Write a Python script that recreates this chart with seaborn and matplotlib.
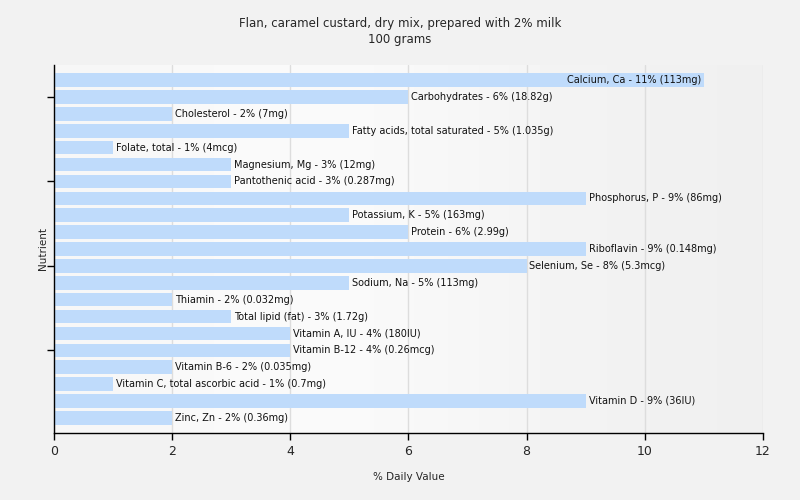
import numpy as np
import pandas as pd
import matplotlib
matplotlib.use("Agg")
import matplotlib.pyplot as plt
import seaborn as sns

nutrients = [
    "Calcium, Ca", "Carbohydrates", "Cholesterol", "Fatty acids, total saturated",
    "Folate, total", "Magnesium, Mg", "Pantothenic acid", "Phosphorus, P",
    "Potassium, K", "Protein", "Riboflavin", "Selenium, Se", "Sodium, Na",
    "Thiamin", "Total lipid (fat)", "Vitamin A, IU", "Vitamin B-12",
    "Vitamin B-6", "Vitamin C, total ascorbic acid", "Vitamin D", "Zinc, Zn",
]
daily_pct = [11, 6, 2, 5, 1, 3, 3, 9, 5, 6, 9, 8, 5, 2, 3, 4, 4, 2, 1, 9, 2]
amounts = [
    "113mg", "18.82g", "7mg", "1.035g", "4mcg", "12mg", "0.287mg", "86mg",
    "163mg", "2.99g", "0.148mg", "5.3mcg", "113mg", "0.032mg", "1.72g",
    "180IU", "0.26mcg", "0.035mg", "0.7mg", "36IU", "0.36mg",
]

df = pd.DataFrame({"Nutrient": nutrients, "pct": daily_pct, "amount": amounts})

sns.set_style("white")
plt.rcParams["font.family"] = ["DejaVu Sans"]

fig = plt.figure(figsize=(8, 5), dpi=100, facecolor="#f2f2f2")
ax = fig.add_axes([0.0675, 0.134, 0.886, 0.736])

# light horizontal gradient behind the bars
grad = np.array([[0.965, 0.985, 0.975, 0.955, 0.94]])
ax.imshow(grad, cmap="gray", vmin=0, vmax=1, aspect="auto",
          extent=(0, 12, 20.9, -0.9), zorder=0, interpolation="bicubic")

sns.barplot(data=df, x="pct", y="Nutrient", orient="h", color="#bfdbfb",
            saturation=1, width=0.8, linewidth=0, edgecolor="none",
            ax=ax, zorder=2)

for i, row in df.iterrows():
    label = f"{row['Nutrient']} - {row['pct']}% ({row['amount']})"
    if row["pct"] > 10:
        ax.text(row["pct"] - 0.05, i, label, va="center", ha="right",
                fontsize=7, color="#111111", zorder=3)
    else:
        ax.text(row["pct"] + 0.05, i, label, va="center", ha="left",
                fontsize=7, color="#111111", zorder=3)

ax.set_xlim(0, 12)
ax.set_ylim(20.9, -0.9)
ax.set_xticks(range(0, 13, 2))
ax.set_yticks([1, 6, 11, 16])
ax.set_yticklabels([])
ax.xaxis.grid(True, color="#dddddd", linewidth=1)
ax.set_axisbelow(True)
ax.tick_params(axis="both", direction="out", length=5, width=1, color="black",
               labelsize=9, left=True, bottom=True)
for s in ["top", "right"]:
    ax.spines[s].set_visible(False)
for s in ["left", "bottom"]:
    ax.spines[s].set_color("black")
    ax.spines[s].set_linewidth(1)

ax.set_xlabel("% Daily Value", fontsize=7.5, labelpad=10)
ax.set_ylabel("Nutrient", fontsize=7.5, labelpad=-4)
fig.suptitle("Flan, caramel custard, dry mix, prepared with 2% milk\n100 grams",
             fontsize=8.5, y=0.965, linespacing=1.3)

fig.savefig("out.png", dpi=100, facecolor=fig.get_facecolor())
